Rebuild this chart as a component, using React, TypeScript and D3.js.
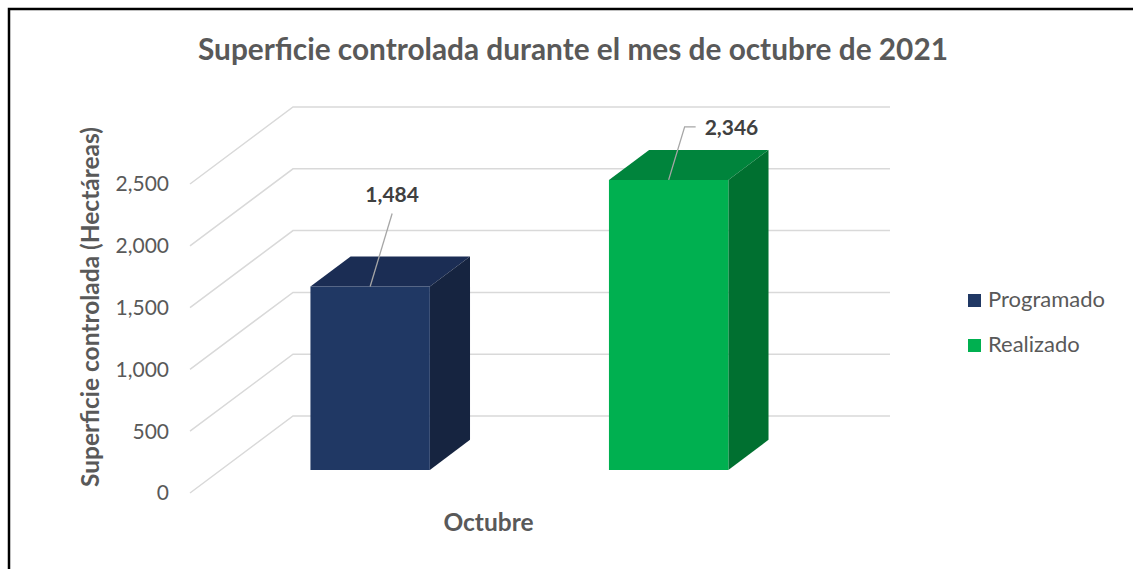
import React, { useRef, useEffect } from 'react';
import * as d3 from 'd3';

// data
const categories = ['Octubre'];
const series = ['Programado', 'Realizado'];
const values = [1484, 2346];
const yTicks = [0, 500, 1000, 1500, 2000, 2500];

const frontColors = ['#203864', '#00b050'];
const topColors = ['#1b2d54', '#00843c'];
const sideColors = ['#162440', '#007030'];

const FONT = 'Lato, "Open Sans", sans-serif';
const GREY = '#595959';

const App = () => {
    const svgRef = useRef<SVGSVGElement>(null);

    useEffect(() => {
        const width = 1133;
        const height = 569;

        // 3d box: front plane + depth offset
        const floorLeft = 190;
        const floorRight = 787;
        const DX = 103;
        const DY = 77;
        const barFront = 0.3;
        const barBack = 0.69;

        const svg = d3.select(svgRef.current)
            .attr('width', width)
            .attr('height', height);

        svg.selectAll('*').remove();

        svg.append('rect')
            .attr('x', 9).attr('y', 9)
            .attr('width', 1200).attr('height', 700)
            .attr('fill', 'white')
            .attr('stroke', 'black')
            .attr('stroke-width', 2.5);

        const x0 = d3.scaleBand()
            .domain(categories)
            .range([floorLeft, floorRight]);

        const x1 = d3.scaleBand()
            .domain(series)
            .range([0, x0.bandwidth()])
            .paddingInner(0.6)
            .paddingOuter(0.3);

        const y = d3.scaleLinear()
            .domain([0, 2500])
            .range([493, 184]);

        const proj = (x: number, v: number, d: number): [number, number] =>
            [x + d * DX, y(v) - d * DY];

        // gridlines: side wall diagonals + back wall
        const grid = svg.append('g')
            .attr('stroke', '#d9d9d9')
            .attr('stroke-width', 1.5)
            .attr('fill', 'none');

        yTicks.forEach(t => {
            const a = proj(floorLeft, t, 0);
            const b = proj(floorLeft, t, 1);
            const c = proj(floorRight, t, 1);
            grid.append('path')
                .attr('d', d3.line()([a, b, c]));
        });

        // tick labels
        svg.append('g')
            .selectAll('text')
            .data(yTicks)
            .enter()
            .append('text')
            .attr('x', 169)
            .attr('y', d => y(d))
            .attr('dy', '0.35em')
            .attr('text-anchor', 'end')
            .attr('font-family', FONT)
            .attr('font-size', 21)
            .attr('fill', GREY)
            .text(d => d3.format(',')(d));

        // bars
        const cat = categories[0];
        series.forEach((s, i) => {
            const xa = (x0(cat) as number) + (x1(s) as number);
            const xb = xa + x1.bandwidth();
            const v = values[i];
            const g = svg.append('g');

            const ftl = proj(xa, v, barFront), ftr = proj(xb, v, barFront);
            const fbl = proj(xa, 0, barFront), fbr = proj(xb, 0, barFront);
            const btl = proj(xa, v, barBack), btr = proj(xb, v, barBack);
            const bbr = proj(xb, 0, barBack);

            g.append('path')
                .attr('d', d3.line()([ftl, ftr, btr, btl]) + 'Z')
                .attr('fill', topColors[i]);
            g.append('path')
                .attr('d', d3.line()([ftr, btr, bbr, fbr]) + 'Z')
                .attr('fill', sideColors[i]);
            g.append('path')
                .attr('d', d3.line()([ftl, ftr, fbr, fbl]) + 'Z')
                .attr('fill', frontColors[i]);
        });

        // data labels with leader lines
        const labelLayout = [
            { pts: [[0, 0], [22, -73]], tx: 22, ty: -84, anchor: 'middle' },
            { pts: [[0, 0], [16, -53], [27, -53]], tx: 36, ty: -45, anchor: 'start' }
        ];
        series.forEach((s, i) => {
            const xa = (x0(cat) as number) + (x1(s) as number);
            const [sx, sy] = proj(xa + x1.bandwidth() / 2, values[i], barFront);
            const L = labelLayout[i];
            svg.append('path')
                .attr('d', d3.line()(L.pts.map(p => [sx + p[0], sy + p[1]] as [number, number])))
                .attr('fill', 'none')
                .attr('stroke', '#a6a6a6')
                .attr('stroke-width', 1.3);
            svg.append('text')
                .attr('x', sx + L.tx)
                .attr('y', sy + L.ty)
                .attr('text-anchor', L.anchor)
                .attr('font-family', FONT)
                .attr('font-weight', 'bold')
                .attr('font-size', 21)
                .attr('fill', '#404040')
                .text(d3.format(',')(values[i]));
        });

        // title
        svg.append('text')
            .attr('x', 573)
            .attr('y', 60)
            .attr('text-anchor', 'middle')
            .attr('font-family', FONT)
            .attr('font-weight', 'bold')
            .attr('font-size', 29.8)
            .attr('fill', GREY)
            .text('Superficie controlada durante el mes de octubre de 2021');

        // axis titles
        svg.append('text')
            .attr('transform', 'translate(99,307) rotate(-90)')
            .attr('text-anchor', 'middle')
            .attr('font-family', FONT)
            .attr('font-weight', 'bold')
            .attr('font-size', 24.5)
            .attr('fill', GREY)
            .text('Superficie controlada (Hectáreas)');

        svg.append('text')
            .attr('x', (x0(cat) as number) + x0.bandwidth() / 2)
            .attr('y', 531)
            .attr('text-anchor', 'middle')
            .attr('font-family', FONT)
            .attr('font-weight', 'bold')
            .attr('font-size', 24.5)
            .attr('fill', GREY)
            .text(cat);

        // legend
        const legend = svg.append('g')
            .selectAll('g')
            .data(series)
            .enter()
            .append('g')
            .attr('transform', (d, i) => `translate(968,${294 + i * 45})`);
        legend.append('rect')
            .attr('width', 13).attr('height', 13)
            .attr('fill', (d, i) => frontColors[i]);
        legend.append('text')
            .attr('x', 20)
            .attr('y', 13)
            .attr('font-family', FONT)
            .attr('font-size', 22)
            .attr('fill', GREY)
            .text(d => d);

    }, []);

    return (
        <div style={{ position: 'absolute', left: 0, top: 0 }}>
            <svg ref={svgRef}></svg>
        </div>
    );
};

export default App;
